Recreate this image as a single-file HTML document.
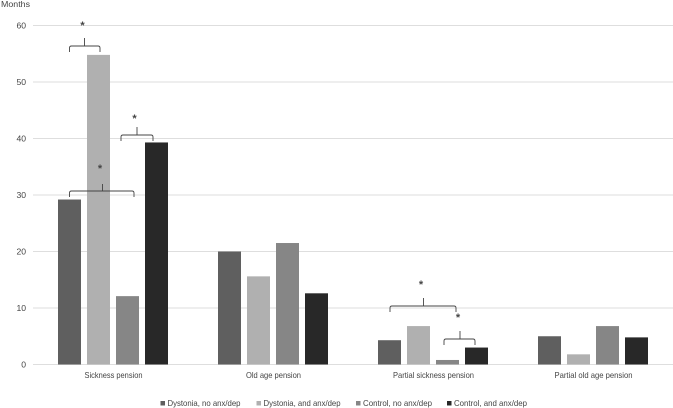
<!DOCTYPE html>
<html>
<head>
<meta charset="utf-8">
<style>
html,body{margin:0;padding:0;background:#fff;}
svg{display:block;filter:blur(0.3px);}
text{font-family:"Liberation Sans",sans-serif;fill:#444;}
</style>
</head>
<body>
<svg id="chart" width="673" height="408" viewBox="0 0 673 408" xmlns="http://www.w3.org/2000/svg">
<text x="1" y="7" font-size="8.6" textLength="29" lengthAdjust="spacingAndGlyphs">Months</text>
<g id="grid"></g>
<g id="bars"></g>
<g id="labels"></g>
<g id="annotations" fill="none" stroke="#444" stroke-width="0.9">
<path d="M69.5 52V48Q69.5 46 71.5 46H98Q100 46 100 48V52M84.5 46V38"/>
<path d="M121 141V137Q121 135 123 135H151Q153 135 153 137V141M137 135V127"/>
<path d="M69.5 197V193Q69.5 191 71.5 191H132Q134 191 134 193V197M102.5 191V184"/>
<path d="M390 312V308Q390 306 392 306H454Q456 306 456 308V312M423.5 306V298"/>
<path d="M444 345V341Q444 339 446 339H473Q475 339 475 341V345M460 339V331"/>
</g>
<g font-size="11" font-weight="bold" text-anchor="middle">
<text x="82.5" y="29">*</text>
<text x="134.5" y="122">*</text>
<text x="100" y="172">*</text>
<text x="421" y="288">*</text>
<text x="458" y="321">*</text>
</g>
<g id="legend"></g>
</svg>
<script>
const categories = ["Sickness pension", "Old age pension", "Partial sickness pension", "Partial old age pension"];
const seriesNames = ["Dystonia, no anx/dep", "Dystonia, and anx/dep", "Control, no anx/dep", "Control, and anx/dep"];
const dystoniaNoAnx = [29.2, 20, 4.3, 5];
const dystoniaAnx = [54.8, 15.6, 6.8, 1.8];
const controlNoAnx = [12.1, 21.5, 0.8, 6.8];
const controlAnx = [39.3, 12.6, 3, 4.8];
const yTicks = [0, 10, 20, 30, 40, 50, 60];

const seriesValues = [dystoniaNoAnx, dystoniaAnx, controlNoAnx, controlAnx];
const seriesColors = ["#5f5f5f", "#b0b0b0", "#868686", "#282828"];
const NS = "http://www.w3.org/2000/svg";
const plotLeft = 33, plotRight = 673, plotBottom = 364.5, plotTop = 25.5;
const yMax = 60;
const barWidth = 23, barStep = 29;

function yScale(v) {
  return plotBottom - (v / yMax) * (plotBottom - plotTop);
}
function groupCenter(i) {
  return plotLeft + (plotRight - plotLeft) * (i + 0.5) / categories.length;
}
function barX(c, s) {
  return groupCenter(c) + (s - (seriesValues.length - 1) / 2) * barStep - barWidth / 2;
}
function make(tag, attrs, parent, txt) {
  const el = document.createElementNS(NS, tag);
  for (const k in attrs) el.setAttribute(k, attrs[k]);
  if (txt !== undefined) el.textContent = txt;
  parent.appendChild(el);
  return el;
}

const gridG = document.getElementById("grid");
const barsG = document.getElementById("bars");
const labelsG = document.getElementById("labels");
const legendG = document.getElementById("legend");

yTicks.forEach(function (t) {
  const line = make("line", {x1: plotLeft, x2: plotRight, y1: yScale(t), y2: yScale(t), stroke: "#dedede", "stroke-width": 1}, gridG);
  
  
  const lab = make("text", {x: 26, y: yScale(t) + 3, "font-size": 8.6, "text-anchor": "end"}, labelsG, String(t));
  
  
});

seriesValues.forEach(function (vals, s) {
  vals.forEach(function (v, c) {
    const bar = make("rect", {x: barX(c, s), y: yScale(v), width: barWidth, height: plotBottom - yScale(v), fill: seriesColors[s]}, barsG);
    
    
  });
});

const categoryLabelWidth = [58, 55, 81, 78];
categories.forEach(function (name, c) {
  const lab = make("text", {x: groupCenter(c) + 0.5, y: 378, "font-size": 8.4, "text-anchor": "middle", textLength: categoryLabelWidth[c], lengthAdjust: "spacingAndGlyphs"}, labelsG, name);
  
  
});

const legendSwatchX = [160.5, 256.5, 356, 447];
const legendLabelWidth = [73, 77, 69, 73];
seriesNames.forEach(function (name, s) {
  const sw = make("rect", {x: legendSwatchX[s], y: 401, width: 4.5, height: 4.5, fill: seriesColors[s]}, legendG);
  
  
  const lab = make("text", {x: legendSwatchX[s] + 7, y: 406, "font-size": 8.4, textLength: legendLabelWidth[s], lengthAdjust: "spacingAndGlyphs"}, legendG, name);
  
  
});
</script>
</body>
</html>
